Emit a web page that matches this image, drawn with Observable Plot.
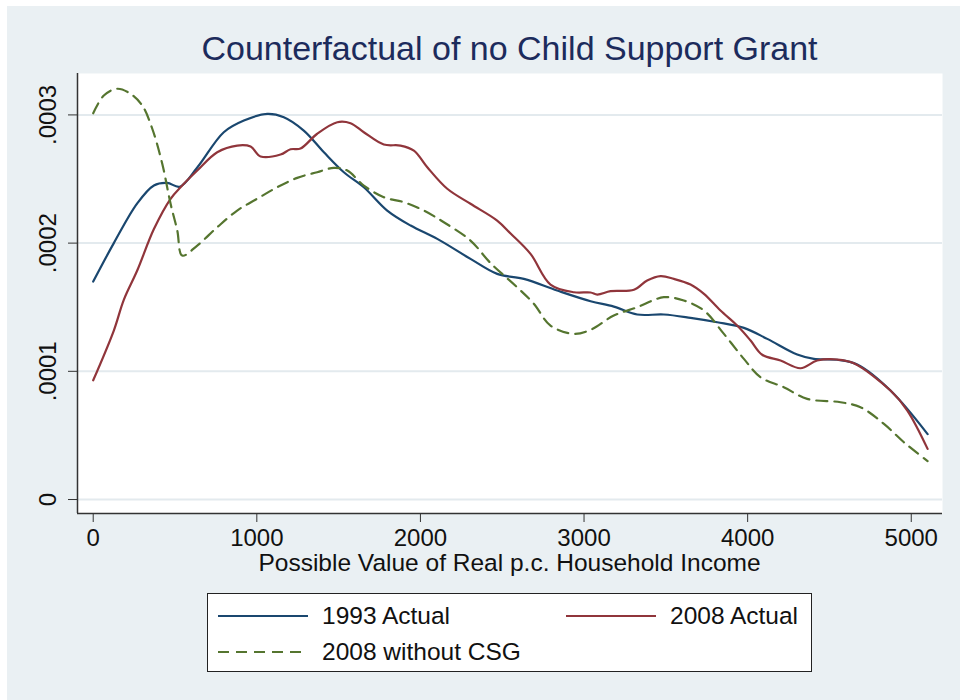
<!DOCTYPE html>
<html>
<head>
<meta charset="utf-8">
<script src="https://cdn.jsdelivr.net/npm/d3@7"></script>
<script src="https://cdn.jsdelivr.net/npm/@observablehq/plot@0.6"></script>
<style>
  html, body { margin: 0; padding: 0; background: #ffffff; }
  body { width: 960px; height: 700px; position: relative; overflow: hidden; font-family: "Liberation Sans", Arial, Helvetica, sans-serif; }
  #panel { position: absolute; left: 7px; top: 6px; width: 953px; height: 694px; background: #eaf0f3; }
  #chart { position: absolute; left: 0; top: 0; }
  #title { position: absolute; left: 77px; width: 865px; top: 31px; line-height: 1; text-align: center; font-size: 34px; color: #1c2b5c; white-space: nowrap; }
  #xlabel { position: absolute; left: 77px; width: 865px; top: 551px; line-height: 1; text-align: center; font-size: 24.5px; color: #111; white-space: nowrap; }
  #legend { position: absolute; left: 207px; top: 593px; width: 605px; height: 79px; background: #fff; border: 1px solid #222; box-sizing: border-box; }
  .item { position: absolute; display: flex; align-items: center; font-size: 24.5px; color: #111; white-space: nowrap; }
  .item svg { margin-right: 13px; }
</style>
</head>
<body>
<div id="panel"></div>
<div id="chart"></div>
<div id="title">Counterfactual of no Child Support Grant</div>
<div id="xlabel">Possible Value of Real p.c. Household Income</div>
<div id="legend"></div>
<script>
// ---- data ----
const seriesNames = ["1993 Actual", "2008 Actual", "2008 without CSG"];
const seriesColors = ["#1a476f", "#90353b", "#55752f"];

const x1993 = [0, 126, 269, 371, 452, 529, 636, 798, 921, 1064, 1165, 1287, 1410, 1532, 1654, 1797, 1940, 2103, 2306, 2469, 2632, 2836, 3040, 3182, 3325, 3488, 3651, 3814, 3977, 4120, 4303, 4405, 4548, 4670, 4873, 5100];
const y1993 = [1.70e-4, 2.00e-4, 2.31e-4, 2.45e-4, 2.47e-4, 2.44e-4, 2.59e-4, 2.865e-4, 2.956e-4, 3.008e-4, 2.982e-4, 2.878e-4, 2.709e-4, 2.553e-4, 2.436e-4, 2.254e-4, 2.137e-4, 2.033e-4, 1.877e-4, 1.760e-4, 1.721e-4, 1.630e-4, 1.547e-4, 1.505e-4, 1.443e-4, 1.443e-4, 1.417e-4, 1.383e-4, 1.339e-4, 1.253e-4, 1.131e-4, 1.097e-4, 1.090e-4, 1.053e-4, 0.850e-4, 0.51e-4];

const x2008 = [0, 126, 187, 269, 371, 473, 534, 636, 758, 880, 962, 1023, 1145, 1206, 1267, 1369, 1492, 1573, 1654, 1776, 1878, 1960, 2042, 2164, 2306, 2469, 2551, 2673, 2795, 2938, 3040, 3081, 3162, 3305, 3386, 3468, 3549, 3651, 3733, 3834, 3936, 4018, 4089, 4201, 4323, 4425, 4548, 4649, 4873, 4976, 5100];
const y2008 = [0.93e-4, 1.318e-4, 1.558e-4, 1.786e-4, 2.11e-4, 2.346e-4, 2.436e-4, 2.566e-4, 2.709e-4, 2.761e-4, 2.753e-4, 2.676e-4, 2.691e-4, 2.732e-4, 2.738e-4, 2.853e-4, 2.943e-4, 2.935e-4, 2.865e-4, 2.769e-4, 2.761e-4, 2.722e-4, 2.592e-4, 2.424e-4, 2.307e-4, 2.176e-4, 2.075e-4, 1.916e-4, 1.677e-4, 1.617e-4, 1.615e-4, 1.599e-4, 1.625e-4, 1.636e-4, 1.708e-4, 1.742e-4, 1.721e-4, 1.677e-4, 1.604e-4, 1.474e-4, 1.357e-4, 1.240e-4, 1.129e-4, 1.084e-4, 1.024e-4, 1.084e-4, 1.092e-4, 1.063e-4, 0.850e-4, 0.694e-4, 0.395e-4];

const xNoCSG = [0, 65, 147, 228, 300, 361, 422, 473, 514, 544, 636, 758, 880, 1002, 1125, 1247, 1369, 1471, 1553, 1654, 1776, 1899, 2021, 2143, 2306, 2428, 2591, 2693, 2795, 2938, 3040, 3182, 3325, 3488, 3610, 3733, 3855, 3977, 4079, 4221, 4364, 4568, 4690, 4833, 4955, 5100];
const yNoCSG = [3.013e-4, 3.151e-4, 3.204e-4, 3.165e-4, 3.073e-4, 2.892e-4, 2.619e-4, 2.307e-4, 2.098e-4, 1.903e-4, 1.981e-4, 2.124e-4, 2.254e-4, 2.346e-4, 2.436e-4, 2.509e-4, 2.553e-4, 2.587e-4, 2.566e-4, 2.449e-4, 2.358e-4, 2.319e-4, 2.254e-4, 2.163e-4, 2.020e-4, 1.845e-4, 1.656e-4, 1.527e-4, 1.357e-4, 1.292e-4, 1.324e-4, 1.435e-4, 1.500e-4, 1.578e-4, 1.552e-4, 1.474e-4, 1.292e-4, 1.097e-4, 0.954e-4, 0.876e-4, 0.785e-4, 0.759e-4, 0.720e-4, 0.590e-4, 0.447e-4, 0.30e-4];

const xTicks = [0, 1000, 2000, 3000, 4000, 5000];
const xTickLabels = ["0", "1000", "2000", "3000", "4000", "5000"];
const yTicks = [0, 0.0001, 0.0002, 0.0003];
const yTickLabels = ["0", ".0001", ".0002", ".0003"];
const xDomain = [-96, 5191];
const yDomain = [-0.0000109, 0.0003323];

// ---- build table ----
const rows = [];
[[x1993, y1993], [x2008, y2008], [xNoCSG, yNoCSG]].forEach(([xs, ys], i) => {
  xs.forEach((x, j) => rows.push({series: seriesNames[i], x, y: ys[j]}));
});
const bySeries = name => rows.filter(d => d.series === name);

const font = "Liberation Sans, Arial, Helvetica, sans-serif";
const plot = Plot.plot({
  width: 960,
  height: 590,
  marginLeft: 77,
  marginRight: 18,
  marginTop: 73,
  marginBottom: 77,
  style: { background: "transparent", fontFamily: font, fontSize: "24px", color: "#111" },
  x: { domain: xDomain, label: null },
  y: { domain: yDomain, label: null },
  marks: [
    Plot.frame({ fill: "white", stroke: "none" }),
    Plot.gridY(yTicks, { stroke: "#e3eaee", strokeOpacity: 1, strokeWidth: 2 }),
    Plot.line(bySeries(seriesNames[0]), { x: "x", y: "y", stroke: seriesColors[0], strokeWidth: 2.2, curve: "catmull-rom" }),
    Plot.line(bySeries(seriesNames[1]), { x: "x", y: "y", stroke: seriesColors[1], strokeWidth: 2.2, curve: "catmull-rom" }),
    Plot.line(bySeries(seriesNames[2]), { x: "x", y: "y", stroke: seriesColors[2], strokeWidth: 2.2, strokeDasharray: "11,7", curve: "catmull-rom" }),
    Plot.axisX(xTicks, { tickSize: 9, tickPadding: 6, stroke: "#333", fontSize: 24, label: null,
      tickFormat: d => xTickLabels[xTicks.indexOf(d)] }),
    Plot.axisY(yTicks, { tickSize: 9, tickPadding: 13, tickRotate: -90, stroke: "#333", fontSize: 24, label: null,
      tickFormat: d => yTickLabels[yTicks.indexOf(d)] }),
    Plot.ruleX([xDomain[0]], { stroke: "#333", strokeWidth: 1.5 }),
    Plot.ruleY([yDomain[0]], { stroke: "#333", strokeWidth: 1.5 })
  ]
});
document.getElementById("chart").appendChild(plot);

// ---- legend ----
const legend = document.getElementById("legend");
const legendPos = [[9, 8], [357, 8], [9, 44]];
seriesNames.forEach((name, i) => {
  const item = document.createElement("div");
  item.className = "item";
  item.style.left = legendPos[i][0] + "px";
  item.style.top = legendPos[i][1] + "px";
  const dash = i === 2 ? ' stroke-dasharray="11,7"' : '';
  item.innerHTML = `<svg width="92" height="24"><line x1="1" y1="12" x2="91" y2="12" stroke="${seriesColors[i]}" stroke-width="2"${dash}/></svg><span>${name}</span>`;
  legend.appendChild(item);
});
</script>
</body>
</html>
